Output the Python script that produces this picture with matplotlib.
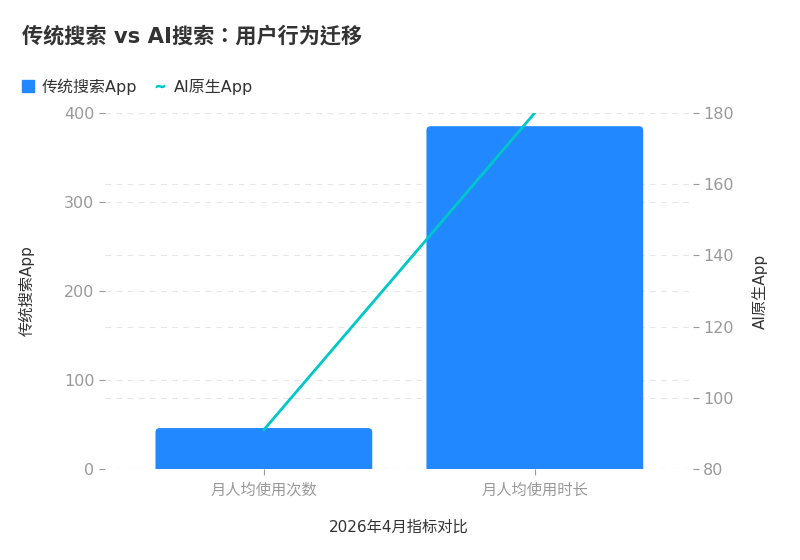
import matplotlib.pyplot as plt
from matplotlib.patches import FancyBboxPatch
from matplotlib.lines import Line2D

plt.rcParams['font.family'] = ['DejaVu Sans', 'Noto Sans CJK SC']

categories = ['月人均使用次数', '月人均使用时长']
traditional = [46, 385]
ai_native = [91, 180]

bar_color = '#2288FF'
line_color = '#00C8C8'
tick_color = '#999999'
text_color = '#333333'

fig = plt.figure(figsize=(8, 5.6), dpi=100)
rect = [0.131, 0.1625, 0.735, 0.636]
# back axes: right scale ticks + grid, middle: bars, front: line
ax_r = fig.add_axes(rect, zorder=1)
ax = fig.add_axes(rect, zorder=2, sharex=ax_r)
ax_line = fig.add_axes(rect, zorder=3, sharex=ax_r, sharey=ax_r)
for a in (ax, ax_line):
    a.patch.set_visible(False)

x = list(range(len(categories)))
bars = ax.bar(x, traditional, width=0.8, color=bar_color, zorder=2)
# swap rectangles for rounded ones (bottom pushed below 0 so only top corners show)
for r in bars:
    r.set_visible(False)
    p = FancyBboxPatch((r.get_x(), r.get_y() - 10), r.get_width(), r.get_height() + 10,
                       boxstyle='round,pad=0,rounding_size=0.016',
                       mutation_aspect=290, facecolor=bar_color,
                       edgecolor='none', zorder=2, clip_on=True)
    ax.add_patch(p)

ax_line.plot(x, ai_native, color=line_color, linewidth=2, zorder=3)

ax.set_xlim(-0.587, 1.583)
ax.set_ylim(0, 400)
ax_r.set_ylim(80, 180)
ax.set_yticks([0, 100, 200, 300, 400])
ax_r.set_yticks([80, 100, 120, 140, 160, 180])
ax.set_xticks(x)
ax.set_xticklabels(categories)

ax_r.yaxis.tick_right()
ax_r.yaxis.set_label_position('right')
ax_r.tick_params(axis='x', bottom=False, labelbottom=False)
ax_line.axis('off')

for a in (ax, ax_r):
    for s in a.spines.values():
        s.set_visible(False)
    a.tick_params(colors=tick_color, labelsize=11.5, length=4, width=0.8)
    a.grid(axis='y', color='#e6e6e6', linestyle=(0, (5, 5)), linewidth=0.8)
    a.set_axisbelow(True)
ax.tick_params(axis='x', labelsize=11, pad=6)

ax.set_ylabel('传统搜索App', fontsize=11, color=text_color, labelpad=21)
ax_r.set_ylabel('AI原生App', fontsize=11, color=text_color, labelpad=13)
ax.set_xlabel('2026年4月指标对比', fontsize=11, color=text_color, labelpad=16)

fig.text(0.027, 0.935, '传统搜索 vs AI搜索：用户行为迁移', fontsize=15.2,
         fontweight='bold', color=text_color, va='center', ha='left',
         family=['DejaVu Sans', 'Noto Sans CJK TC'])

handles = [Line2D([], [], marker='s', linestyle='none', color=bar_color, markersize=8),
           Line2D([], [], marker='$\\sim$', linestyle='none', color=line_color, markersize=6)]
fig.legend(handles, ['传统搜索App', 'AI原生App'], loc='center left',
           bbox_to_anchor=(0.008, 0.845), ncol=2, frameon=False, fontsize=11.5,
           handlelength=0.9, handletextpad=0.4, columnspacing=1.0,
           labelcolor=text_color)

fig.savefig('out.png', dpi=100)
